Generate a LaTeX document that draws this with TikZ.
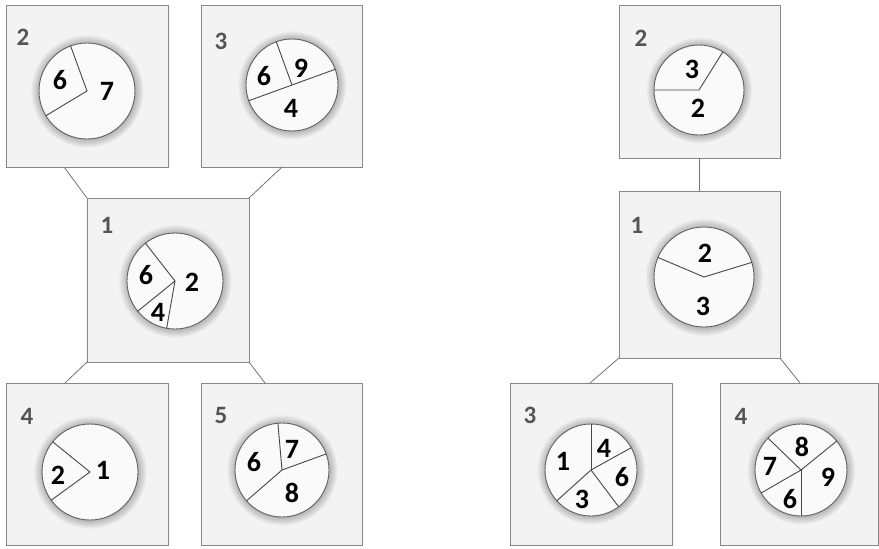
\documentclass[tikz,border=0pt]{standalone}
\usepackage{fontspec}
\setmainfont{Carlito}
\usetikzlibrary{shadows}
\definecolor{panelfill}{RGB}{243,243,243}
\definecolor{paneldraw}{RGB}{135,135,135}
\definecolor{tagtext}{RGB}{85,85,85}

\begin{document}
\begin{tikzpicture}[x=1pt,y=-1pt,
  panel/.style={draw=paneldraw,fill=panelfill,line width=1pt,minimum width=162pt,minimum height=162pt,inner sep=0pt,outer sep=0pt},
  pie/.style={circle,draw=black!62,fill=black!2,line width=.9pt,minimum size=#1,inner sep=0pt,outer sep=0pt,circular glow={fill=black!28,shadow scale=1.18}},
  split/.style={draw=black!72,line width=.9pt},
  link/.style={draw=black!55,line width=.8pt},
  tag/.style={text=tagtext,font=\fontsize{25}{25}\selectfont\bfseries,inner sep=0pt},
  part/.style={font=\fontsize{28}{28}\selectfont\bfseries,inner sep=0pt}]
\useasboundingbox (0,0) rectangle (879,549);

% left tree
\node[panel] (lb2) at (87,86) {};
\node[panel,minimum width=161pt] (lb3) at (281.5,86) {};
\node[panel,minimum height=164pt] (lb1) at (168,280) {};
\node[panel] (lb4) at (87,464) {};
\node[panel,minimum width=161pt] (lb5) at (281.5,464) {};

\draw[link] ([xshift=58pt]lb2.south west) -- (lb1.north west);
\draw[link] ([xshift=81pt]lb3.south west) -- (lb1.north east);
\draw[link] (lb1.south west) -- ([xshift=59pt]lb4.north west);
\draw[link] (lb1.south east) -- ([xshift=64pt]lb5.north west);

\node[tag] (lt2) at (23,37) {2};
\node[tag] (lt3) at (221,41) {3};
\node[tag] (lt1) at (107,225) {1};
\node[tag] (lt4) at (27,416) {4};
\node[tag] (lt5) at (221,415) {5};

% left box 2
\node[pie=96pt] (lc2) at (87,91) {};
\draw[split] (lc2.110) -- (lc2.center) -- (lc2.211);
\node[part] at (60,80) {6};
\node[part] at (107,91) {7};

% left box 3
\node[pie=92pt] (lc3) at (292,85) {};
\draw[split] (lc3.20) -- (lc3.200);
\draw[split] (lc3.center) -- (lc3.110);
\node[part] at (264,76) {6};
\node[part] at (301,68) {9};
\node[part] at (291,108) {4};

% left box 1
\node[pie=96pt] (lc1) at (175,281) {};
\draw[split] (lc1.128) -- (lc1.center) -- (lc1.219);
\draw[split] (lc1.center) -- (lc1.260);
\node[part] at (146,275) {6};
\node[part] at (158,312) {4};
\node[part] at (192,282) {2};

% left box 4
\node[pie=96pt] (lc4) at (90,472) {};
\draw[split] (lc4.141) -- (lc4.center) -- (lc4.216);
\node[part] at (58,475) {2};
\node[part] at (103,470) {1};

% left box 5
\node[pie=94pt] (lc5) at (282,470) {};
\draw[split] (lc5.95) -- (lc5.center) -- (lc5.20);
\draw[split] (lc5.center) -- (lc5.221);
\node[part] at (254,462) {6};
\node[part] at (292,449) {7};
\node[part] at (292,493) {8};

% right tree
\node[panel,minimum width=161pt,minimum height=153pt] (rb2) at (699.5,81.5) {};
\node[panel,minimum width=161pt,minimum height=167pt] (rb1) at (699.5,274.5) {};
\node[panel] (rb3) at (591,464) {};
\node[panel,minimum width=158pt] (rb4) at (799,464) {};

\draw[link] (rb2.south) -- (rb1.north);
\draw[link] (rb1.south west) -- ([xshift=80pt]rb3.north west);
\draw[link] (rb1.south east) -- ([xshift=80pt]rb4.north west);

\node[tag] (rt2) at (641,38) {2};
\node[tag] (rt1) at (637,225) {1};
\node[tag] (rt3) at (530,415) {3};
\node[tag] (rt4) at (741,416) {4};

% right box 2
\node[pie=90pt] (rc2) at (699,90) {};
\draw[split] (rc2.58) -- (rc2.center) -- (rc2.180);
\node[part] at (692,69) {3};
\node[part] at (698,108) {2};

% right box 1
\node[pie=100pt] (rc1) at (704,277) {};
\draw[split] (rc1.157) -- (rc1.center) -- (rc1.17);
\node[part] at (705,253) {2};
\node[part] at (703,306) {3};

% right box 3
\node[pie=92pt] (rc3) at (591,470) {};
\draw[split] (rc3.center) -- (rc3.90);
\draw[split] (rc3.center) -- (rc3.29);
\draw[split] (rc3.center) -- (rc3.307);
\draw[split] (rc3.center) -- (rc3.222);
\node[part] at (563,461) {1};
\node[part] at (604,448) {4};
\node[part] at (622,477) {6};
\node[part] at (582,499) {3};

% right box 4
\node[pie=92pt] (rc4) at (801,470) {};
\draw[split] (rc4.center) -- (rc4.136);
\draw[split] (rc4.center) -- (rc4.39);
\draw[split] (rc4.center) -- (rc4.270);
\draw[split] (rc4.center) -- (rc4.210);
\node[part] at (802,447) {8};
\node[part] at (770,466) {7};
\node[part] at (828,477) {9};
\node[part] at (790,499) {6};
\end{tikzpicture}
\end{document}
